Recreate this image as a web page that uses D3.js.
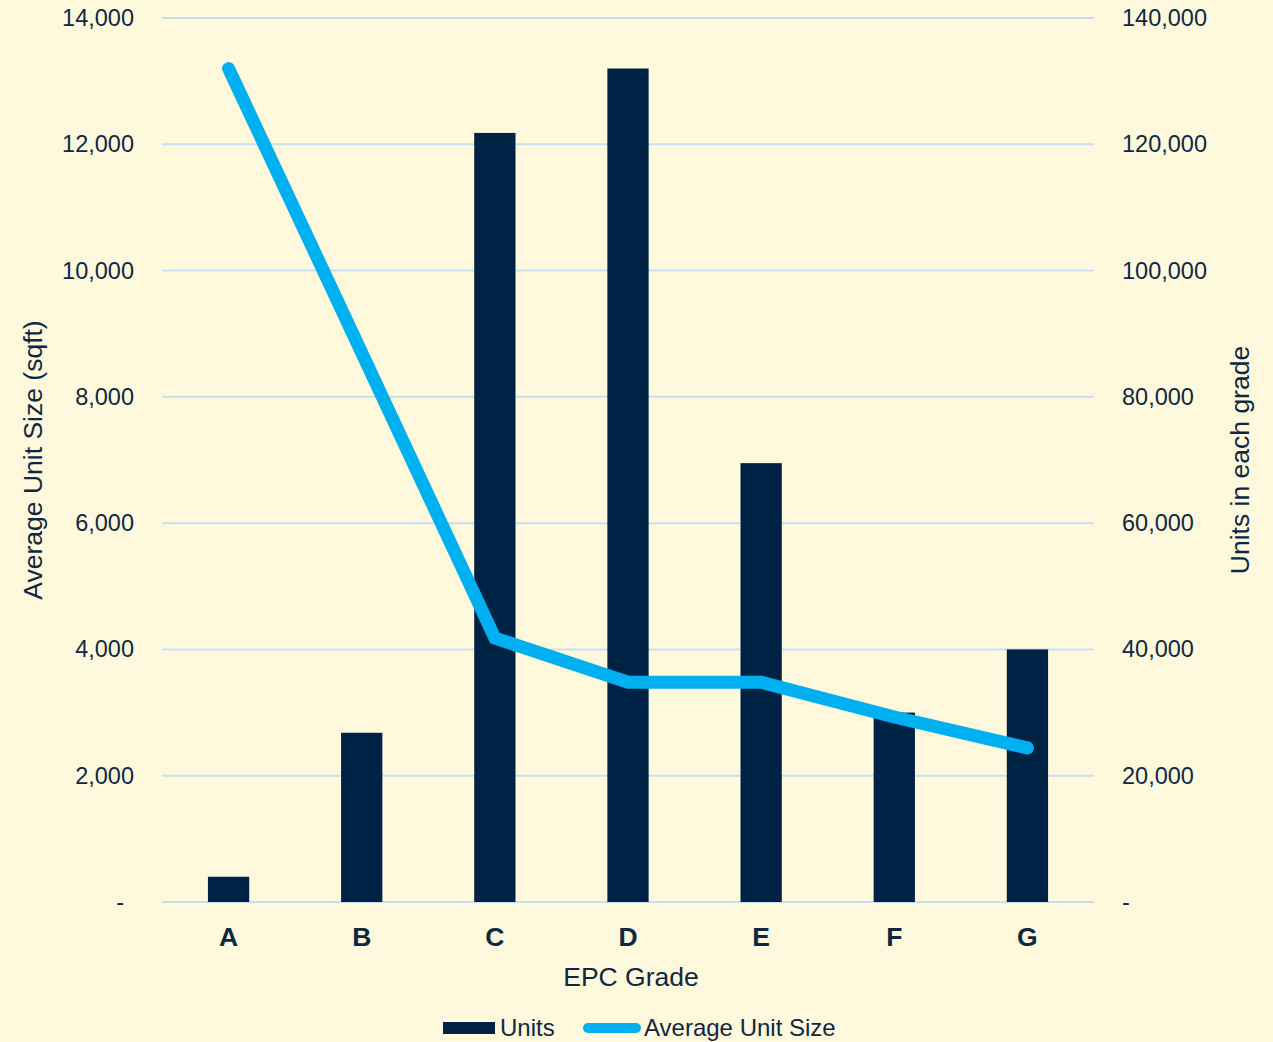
<!DOCTYPE html>
<html>
<head>
<meta charset="utf-8">
<script src="https://cdn.jsdelivr.net/npm/d3@7"></script>
<style>
  html, body { margin: 0; padding: 0; background: #FEF9DD; }
  svg { display: block; font-family: "Liberation Sans", Arial, sans-serif; }
</style>
</head>
<body>
<svg id="chart" width="1273" height="1042"></svg>
<script>
// EPC grades and the two series plotted against them
const grades = ["A", "B", "C", "D", "E", "F", "G"];
const units = [4000, 26800, 121800, 132000, 69500, 30000, 40000];          // right axis
const avgUnitSize = [13200, 8700, 4180, 3480, 3480, 2930, 2440];          // left axis
const leftTicks = [0, 2000, 4000, 6000, 8000, 10000, 12000, 14000];
const rightTicks = [0, 20000, 40000, 60000, 80000, 100000, 120000, 140000];

const W = 1273, H = 1042;
const m = { left: 162, right: 1094, top: 18, bottom: 902 };
const textColor = "#0E2841";
const barColor = "#002244";
const lineColor = "#00B0F0";
const gridColor = "#C5DFF3";

const svg = d3.select("#chart");
svg.append("rect").attr("width", W).attr("height", H).attr("fill", "#FEF9DD");

const x = d3.scaleBand().domain(grades).range([m.left, m.right]).paddingInner(0.69).paddingOuter(0.345);
const yL = d3.scaleLinear().domain([0, 14000]).range([m.bottom, m.top]);
const yR = d3.scaleLinear().domain([0, 140000]).range([m.bottom, m.top]);

// accounting-style number format: zero shown as a dash
const fmt = d3.format(",");

// gridlines
svg.append("g").selectAll("line").data(leftTicks).join("line")
  .attr("x1", m.left).attr("x2", m.right)
  .attr("y1", d => yL(d)).attr("y2", d => yL(d))
  .attr("stroke", gridColor).attr("stroke-width", 2);

// left axis
const axL = svg.append("g").attr("transform", `translate(${m.left},0)`)
  .call(d3.axisLeft(yL).tickValues(leftTicks).tickSize(0).tickPadding(28)
    .tickFormat(d => d === 0 ? "-" : fmt(d)));
axL.select(".domain").remove();
axL.selectAll("text").attr("fill", textColor).style("font-size", "23.5px")
  .attr("dx", d => d === 0 ? -10 : 0);

// right axis
const axR = svg.append("g").attr("transform", `translate(${m.right},0)`)
  .call(d3.axisRight(yR).tickValues(rightTicks).tickSize(0).tickPadding(28)
    .tickFormat(d => d === 0 ? "-" : fmt(d)));
axR.select(".domain").remove();
axR.selectAll("text").attr("fill", textColor).style("font-size", "23.5px");

// bars: units per grade
svg.append("g").selectAll("rect").data(grades).join("rect")
  .attr("x", d => x(d))
  .attr("width", x.bandwidth())
  .attr("y", (d, i) => yR(units[i]))
  .attr("height", (d, i) => yR(0) - yR(units[i]))
  .attr("fill", barColor);

// line: average unit size
const line = d3.line()
  .x((d, i) => x(grades[i]) + x.bandwidth() / 2)
  .y(d => yL(d));
svg.append("path").datum(avgUnitSize)
  .attr("d", line)
  .attr("fill", "none")
  .attr("stroke", lineColor)
  .attr("stroke-width", 13)
  .attr("stroke-linejoin", "miter")
  .attr("stroke-linecap", "round");

// category labels
const axB = svg.append("g").attr("transform", `translate(0,${m.bottom})`)
  .call(d3.axisBottom(x).tickSize(0).tickPadding(25));
axB.select(".domain").remove();
axB.selectAll("text").attr("fill", textColor).style("font-size", "26.5px").style("font-weight", "bold");

// axis titles
svg.append("text").attr("x", 631).attr("y", 986)
  .attr("text-anchor", "middle").attr("fill", textColor).style("font-size", "26.5px")
  .text("EPC Grade");
svg.append("text").attr("transform", "translate(42,460) rotate(-90)")
  .attr("text-anchor", "middle").attr("fill", textColor).style("font-size", "26.5px")
  .text("Average Unit Size (sqft)");
svg.append("text").attr("transform", "translate(1249,460) rotate(-90)")
  .attr("text-anchor", "middle").attr("fill", textColor).style("font-size", "26.5px")
  .text("Units in each grade");

// legend
const lg = svg.append("g");
lg.append("rect").attr("x", 443).attr("y", 1022).attr("width", 52).attr("height", 12).attr("fill", barColor);
lg.append("text").attr("x", 500).attr("y", 1036).attr("fill", textColor).style("font-size", "24px").text("Units");
lg.append("line").attr("x1", 588).attr("x2", 636).attr("y1", 1028).attr("y2", 1028)
  .attr("stroke", lineColor).attr("stroke-width", 10).attr("stroke-linecap", "round");
lg.append("text").attr("x", 644).attr("y", 1036).attr("fill", textColor).style("font-size", "24px").text("Average Unit Size");
</script>
</body>
</html>
